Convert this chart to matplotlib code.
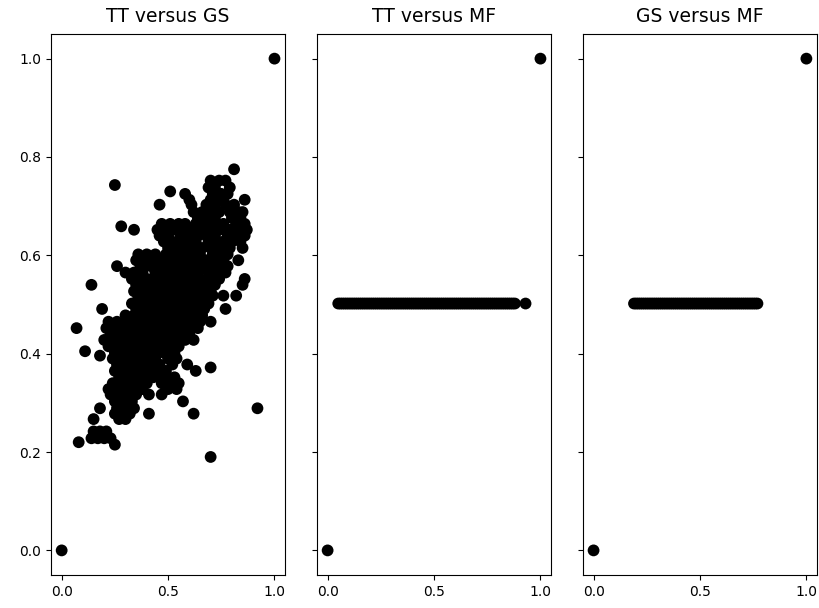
import numpy as np
from matplotlib import pyplot as plt

# DONNEES
titles = ["TT versus GS", "TT versus MF", "GS versus MF"]

# nuage TT / GS : (valeur GS, [valeurs TT])
tt_gs_rows = [
    (0.775, [0.81]),
    (0.752, [0.70, 0.74, 0.77]),
    (0.743, [0.25]),
    (0.738, [0.69, 0.72, 0.79]),
    (0.730, [0.51]),
    (0.725, [0.58, 0.71, 0.75, 0.78]),
    (0.713, [0.60, 0.70, 0.73, 0.76, 0.86]),
    (0.703, [0.46, 0.61, 0.68, 0.72, 0.77, 0.81]),
    (0.688, [0.62, 0.66, 0.70, 0.74, 0.79, 0.83, 0.85]),
    (0.676, [0.64, 0.69, 0.72, 0.80, 0.84]),
    (0.664, [0.47, 0.51, 0.55, 0.58, 0.63, 0.67, 0.71, 0.76, 0.82, 0.86]),
    (0.659, [0.28]),
    (0.652, [0.34, 0.45, 0.49, 0.53, 0.57, 0.61, 0.65, 0.70, 0.74, 0.79, 0.84, 0.87]),
    (0.640, [0.46, 0.50, 0.56, 0.60, 0.64, 0.68, 0.72, 0.78, 0.81, 0.86]),
    (0.628, [0.48, 0.52, 0.55, 0.59, 0.63, 0.69, 0.73, 0.76, 0.80, 0.84]),
    (0.615, [0.50, 0.54, 0.58, 0.62, 0.66, 0.70, 0.75, 0.79, 0.85]),
    (0.602, [0.36, 0.40, 0.44, 0.49, 0.52, 0.57, 0.61, 0.65, 0.71, 0.74, 0.78]),
    (0.590, [0.35, 0.39, 0.43, 0.47, 0.51, 0.55, 0.59, 0.63, 0.68, 0.72, 0.76, 0.83]),
    (0.578, [0.26, 0.37, 0.42, 0.46, 0.50, 0.54, 0.58, 0.62, 0.66, 0.70, 0.75, 0.78]),
    (0.565, [0.30, 0.34, 0.38, 0.44, 0.48, 0.53, 0.57, 0.60, 0.64, 0.69, 0.73, 0.77]),
    (0.552, [0.33, 0.36, 0.40, 0.45, 0.49, 0.52, 0.56, 0.61, 0.65, 0.70, 0.74, 0.86]),
    (0.540, [0.14, 0.35, 0.39, 0.43, 0.47, 0.51, 0.55, 0.59, 0.63, 0.67, 0.72, 0.85]),
    (0.527, [0.34, 0.38, 0.42, 0.46, 0.50, 0.54, 0.58, 0.62, 0.66, 0.70]),
    (0.518, [0.71, 0.76, 0.82]),
    (0.515, [0.36, 0.40, 0.45, 0.48, 0.52, 0.57, 0.61, 0.64, 0.68]),
    (0.502, [0.33, 0.37, 0.41, 0.44, 0.49, 0.53, 0.56, 0.60, 0.65, 0.69]),
    (0.491, [0.19, 0.35, 0.39, 0.43, 0.47, 0.51, 0.55, 0.58, 0.63, 0.67, 0.77]),
    (0.478, [0.30, 0.34, 0.38, 0.42, 0.46, 0.50, 0.54, 0.59, 0.62, 0.66]),
    (0.465, [0.22, 0.26, 0.31, 0.36, 0.40, 0.44, 0.48, 0.52, 0.57, 0.61, 0.65, 0.70]),
    (0.452, [0.07, 0.21, 0.25, 0.29, 0.33, 0.37, 0.41, 0.45, 0.50, 0.55, 0.59, 0.64]),
    (0.440, [0.23, 0.27, 0.32, 0.35, 0.39, 0.43, 0.47, 0.51, 0.56, 0.60]),
    (0.428, [0.20, 0.24, 0.28, 0.31, 0.36, 0.40, 0.44, 0.49, 0.53, 0.58, 0.62]),
    (0.415, [0.22, 0.26, 0.30, 0.34, 0.38, 0.42, 0.46, 0.50, 0.55]),
    (0.405, [0.11]),
    (0.402, [0.25, 0.29, 0.33, 0.37, 0.41, 0.45, 0.48, 0.53]),
    (0.396, [0.18]),
    (0.390, [0.24, 0.28, 0.32, 0.36, 0.40, 0.44, 0.50, 0.54]),
    (0.378, [0.26, 0.30, 0.34, 0.38, 0.42, 0.46, 0.52, 0.59]),
    (0.372, [0.70]),
    (0.365, [0.25, 0.29, 0.33, 0.37, 0.41, 0.45, 0.49, 0.63]),
    (0.352, [0.27, 0.31, 0.35, 0.39, 0.43, 0.48, 0.53]),
    (0.340, [0.24, 0.28, 0.32, 0.36, 0.40, 0.47, 0.51, 0.55]),
    (0.328, [0.22, 0.26, 0.30, 0.34, 0.38, 0.50, 0.54]),
    (0.317, [0.23, 0.27, 0.31, 0.35, 0.41, 0.47]),
    (0.303, [0.25, 0.29, 0.33, 0.57]),
    (0.289, [0.18, 0.26, 0.30, 0.34, 0.92]),
    (0.278, [0.25, 0.28, 0.32, 0.41, 0.62]),
    (0.267, [0.15, 0.27, 0.30]),
    (0.242, [0.15, 0.18, 0.21]),
    (0.228, [0.14, 0.17, 0.20, 0.23]),
    (0.220, [0.08]),
    (0.215, [0.25]),
    (0.190, [0.70]),
]

# TT / MF et GS / MF : MF reste a 0.5
tt_mf = [0.05, 0.06, 0.07, 0.08, 0.09, 0.10, 0.11, 0.12, 0.13, 0.14,
         0.15, 0.16, 0.17, 0.18, 0.19, 0.20, 0.21, 0.22, 0.23, 0.24,
         0.25, 0.26, 0.27, 0.28, 0.29, 0.30, 0.31, 0.32, 0.33, 0.34,
         0.35, 0.36, 0.37, 0.38, 0.39, 0.40, 0.41, 0.42, 0.43, 0.44,
         0.45, 0.46, 0.47, 0.48, 0.49, 0.50, 0.51, 0.52, 0.53, 0.54,
         0.55, 0.56, 0.57, 0.58, 0.59, 0.60, 0.61, 0.62, 0.63, 0.64,
         0.65, 0.66, 0.67, 0.68, 0.69, 0.70, 0.71, 0.72, 0.73, 0.74,
         0.75, 0.76, 0.77, 0.78, 0.79, 0.80, 0.81, 0.82, 0.83, 0.84,
         0.85, 0.86, 0.87, 0.88, 0.93]
gs_mf = [0.19, 0.20, 0.21, 0.22, 0.23, 0.24, 0.25, 0.26, 0.27, 0.28,
         0.29, 0.30, 0.31, 0.32, 0.33, 0.34, 0.35, 0.36, 0.37, 0.38,
         0.39, 0.40, 0.41, 0.42, 0.43, 0.44, 0.45, 0.46, 0.47, 0.48,
         0.49, 0.50, 0.51, 0.52, 0.53, 0.54, 0.55, 0.56, 0.57, 0.58,
         0.59, 0.60, 0.61, 0.62, 0.63, 0.64, 0.65, 0.66, 0.67, 0.68,
         0.69, 0.70, 0.71, 0.72, 0.73, 0.74, 0.75, 0.76, 0.77]
mf_val = 0.502

# extremes (0,0) et (1,1) presents dans chaque panneau
coins = [0.0, 1.0]

tt = [x for y, xs in tt_gs_rows for x in xs]
gs = [y for y, xs in tt_gs_rows for x in xs]

# TRACE
fig, axes = plt.subplots(1, 3, sharey=True, figsize=(8.19, 6.08), dpi=100)
fig.subplots_adjust(left=0.0623, right=0.9976, bottom=0.0543, top=0.944, wspace=0.136)

donnees = [
    (tt, gs),
    (tt_mf, [mf_val] * len(tt_mf)),
    (gs_mf, [mf_val] * len(gs_mf)),
]

for ax, titre, (xs, ys) in zip(axes, titles, donnees):
    ax.scatter(xs + coins, ys + coins, s=72, c='black', edgecolors='none')
    ax.set_title(titre, fontsize=13.5, pad=9)
    ax.set_xlim(-0.05, 1.05)
    ax.set_ylim(-0.05, 1.05)
    ax.set_xticks([0.0, 0.5, 1.0])
    ax.tick_params(labelsize=10)

axes[0].set_yticks([0.0, 0.2, 0.4, 0.6, 0.8, 1.0])

fig.savefig('out.png')
